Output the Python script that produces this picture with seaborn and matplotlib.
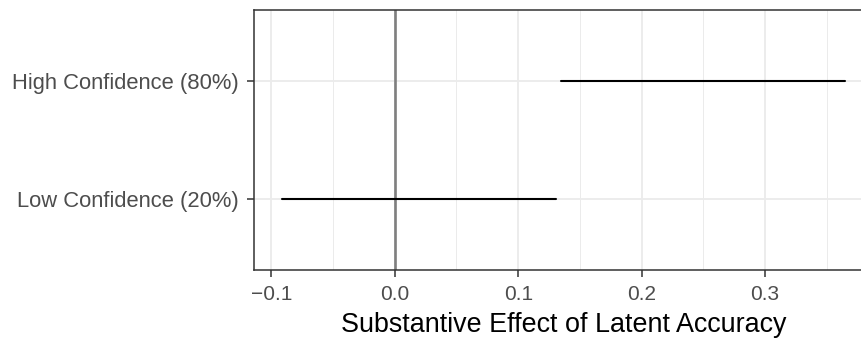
import pandas as pd
import numpy as np
import matplotlib
matplotlib.use("Agg")
import matplotlib.pyplot as plt
import seaborn as sns

sns.set_theme(style="whitegrid")
plt.rcParams['font.family'] = ['Liberation Sans', 'DejaVu Sans']

# data (interval of the substantive effect)
categories = ["Low Confidence (20%)", "High Confidence (80%)"]
lower = [-0.091, 0.1345]
upper = [0.131, 0.3646]
x_ticks = [-0.1, 0.0, 0.1, 0.2, 0.3]
x_minor = [-0.05, 0.05, 0.15, 0.25, 0.35]
x_title = "Substantive Effect of Latent Accuracy"

df = pd.DataFrame({
    "label": categories * 2,
    "effect": lower + upper,
})
df["ypos"] = df["label"].map({c: i for i, c in enumerate(categories)})

W, H = 862, 338
fig = plt.figure(figsize=(W / 100, H / 100), dpi=100)
# panel runs past the right edge of the picture, as in the original
ax = fig.add_axes([254.3 / W, (H - 270) / H, (873 - 254.3) / W, (270 - 10.3) / H])
ax.set_facecolor("white")

ax.axvline(0, color="#7f7f7f", lw=1.9, zorder=2)
sns.lineplot(data=df, x="effect", y="ypos", units="label", estimator=None,
             sort=False, color="black", lw=1.5, ax=ax, zorder=3)

lo, hi = min(lower), max(upper)
pad = 0.05 * (hi - lo)
ax.set_xlim(lo - pad, hi + pad)
ax.set_ylim(-0.6, len(categories) - 1 + 0.6)

ax.set_xticks(x_ticks)
ax.set_xticklabels(["\u22120.1", "0.0", "0.1", "0.2", "0.3"])
ax.set_xticks(x_minor, minor=True)
ax.set_yticks(range(len(categories)))
ax.set_yticklabels(categories)

ax.grid(True, which="major", color="#ebebeb", lw=1.3, zorder=0)
ax.grid(True, which="minor", axis="x", color="#ebebeb", lw=0.7, zorder=0)
ax.set_axisbelow(True)

ax.tick_params(axis="both", which="major", length=5, width=1.1, color="#333333",
               labelcolor="#4d4d4d", bottom=True, left=True)
ax.tick_params(axis="x", which="major", labelsize=15, pad=5.5)
ax.tick_params(axis="y", which="major", labelsize=15.8, pad=6)
ax.tick_params(axis="both", which="minor", length=0)

for s in ax.spines.values():
    s.set_color("#333333")
    s.set_linewidth(1.1)
ax.spines["right"].set_visible(False)

ax.set_xlabel(x_title, fontsize=19.4, color="black", labelpad=6)
ax.set_ylabel("")

fig.savefig("out.png", dpi=100)
